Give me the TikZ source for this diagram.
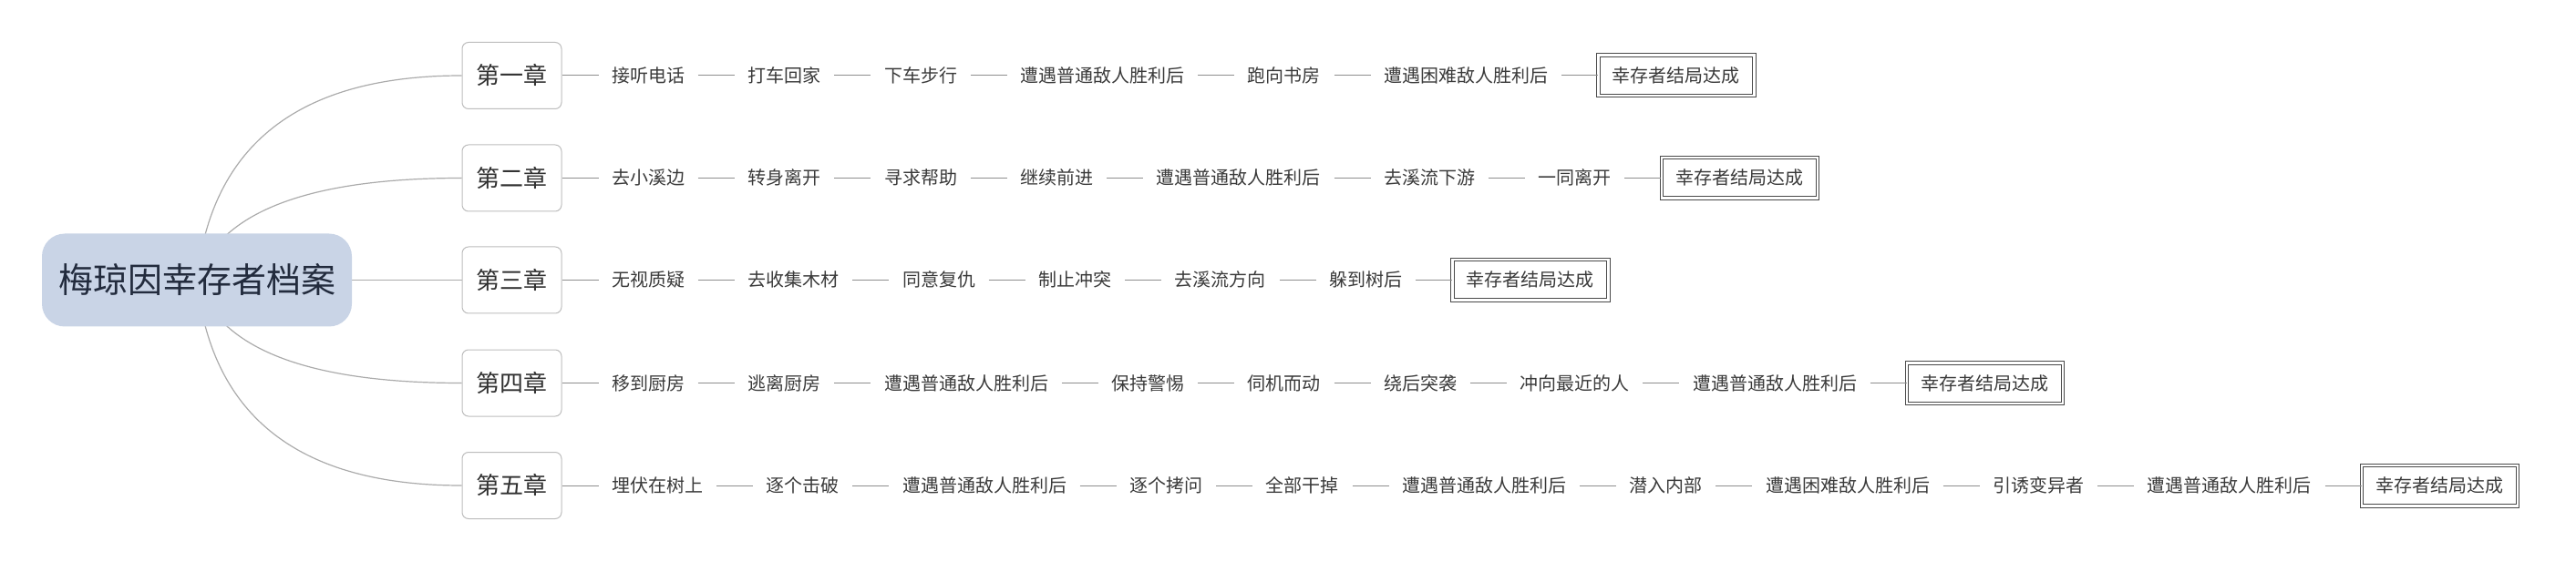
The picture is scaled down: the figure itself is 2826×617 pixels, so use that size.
\documentclass[tikz,border=0pt]{standalone}
\usepackage{fontspec}
\setmainfont{Noto Sans CJK SC}
\usetikzlibrary{positioning,backgrounds}
\definecolor{rootfill}{HTML}{C9D4E6}
\definecolor{roottext}{HTML}{222B3D}
\definecolor{linkgray}{HTML}{ABABAB}
\definecolor{chaingray}{HTML}{8E8E8E}
\definecolor{boxgray}{HTML}{BDBDBD}
\definecolor{textgray}{HTML}{3A3A3A}
\definecolor{goalgray}{HTML}{4A4A4A}
\tikzset{
  root/.style={fill=rootfill, text=roottext, rounded corners=25pt, minimum width=340pt, minimum height=102pt,
    font=\fontsize{38pt}{46pt}\selectfont, text height=30.4pt, text depth=2pt},
  chapter/.style={draw=boxgray, fill=white, line width=1pt, rounded corners=7pt, text=textgray!85!black,
    minimum width=109pt, minimum height=73pt, font=\fontsize{26pt}{31pt}\selectfont, text height=21pt, text depth=1.3pt},
  item/.style={text=textgray, inner xsep=14.5pt, inner ysep=0pt,
    font=\fontsize{20pt}{24pt}\selectfont, text height=16pt, text depth=1pt},
  goal/.style={draw=goalgray, double, double distance=2.5pt, line width=1pt, text=textgray, inner xsep=15.5pt,
    minimum height=44.5pt, font=\fontsize{20pt}{24pt}\selectfont, text height=16pt, text depth=1pt},
  link/.style={draw=linkgray, line width=1.2pt},
  chainlink/.style={draw=chaingray, line width=1pt}
}
\begin{document}
\begin{tikzpicture}[x=1pt, y=-1pt, node distance=40pt]
\useasboundingbox (0,0) rectangle (2826,617);

\node[root] (root) at (216,307.5) {梅琼因幸存者档案};
\node[chapter] (a0) at (561.5,83) {第一章};
\node[chapter] (b0) at (561.5,195.5) {第二章};
\node[chapter] (c0) at (561.5,307.5) {第三章};
\node[chapter] (d0) at (561.5,420.5) {第四章};
\node[chapter] (e0) at (561.5,533) {第五章};

% root to chapters
\begin{scope}[on background layer]
\draw[link] (root.center) .. controls +(16,-149) and +(-178,0) .. (a0.west);
\draw[link] (root.center) .. controls +(24,-74) and +(-170,0) .. (b0.west);
\draw[link] (root.center) -- (c0.west);
\draw[link] (root.center) .. controls +(24,75) and +(-170,0) .. (d0.west);
\draw[link] (root.center) .. controls +(16,150) and +(-178,0) .. (e0.west);
\end{scope}

% chapter 1
\foreach \t [count=\i, remember=\i as \j (initially 0)] in {接听电话,打车回家,下车步行,遭遇普通敌人胜利后,跑向书房,遭遇困难敌人胜利后}{
  \node[item, right=of a\j] (a\i) {\t};
  \draw[chainlink] (a\j) -- (a\i);
}
\node[goal, right=of a6] (aend) {幸存者结局达成};
\draw[chainlink] (a6) -- (aend);

% chapter 2
\foreach \t [count=\i, remember=\i as \j (initially 0)] in {去小溪边,转身离开,寻求帮助,继续前进,遭遇普通敌人胜利后,去溪流下游,一同离开}{
  \node[item, right=of b\j] (b\i) {\t};
  \draw[chainlink] (b\j) -- (b\i);
}
\node[goal, right=of b7] (bend) {幸存者结局达成};
\draw[chainlink] (b7) -- (bend);

% chapter 3
\foreach \t [count=\i, remember=\i as \j (initially 0)] in {无视质疑,去收集木材,同意复仇,制止冲突,去溪流方向,躲到树后}{
  \node[item, right=of c\j] (c\i) {\t};
  \draw[chainlink] (c\j) -- (c\i);
}
\node[goal, right=of c6] (cend) {幸存者结局达成};
\draw[chainlink] (c6) -- (cend);

% chapter 4
\foreach \t [count=\i, remember=\i as \j (initially 0)] in {移到厨房,逃离厨房,遭遇普通敌人胜利后,保持警惕,伺机而动,绕后突袭,冲向最近的人,遭遇普通敌人胜利后}{
  \node[item, right=of d\j] (d\i) {\t};
  \draw[chainlink] (d\j) -- (d\i);
}
\node[goal, right=of d8] (dend) {幸存者结局达成};
\draw[chainlink] (d8) -- (dend);

% chapter 5
\foreach \t [count=\i, remember=\i as \j (initially 0)] in {埋伏在树上,逐个击破,遭遇普通敌人胜利后,逐个拷问,全部干掉,遭遇普通敌人胜利后,潜入内部,遭遇困难敌人胜利后,引诱变异者,遭遇普通敌人胜利后}{
  \node[item, right=of e\j] (e\i) {\t};
  \draw[chainlink] (e\j) -- (e\i);
}
\node[goal, right=of e10] (eend) {幸存者结局达成};
\draw[chainlink] (e10) -- (eend);
\end{tikzpicture}
\end{document}
